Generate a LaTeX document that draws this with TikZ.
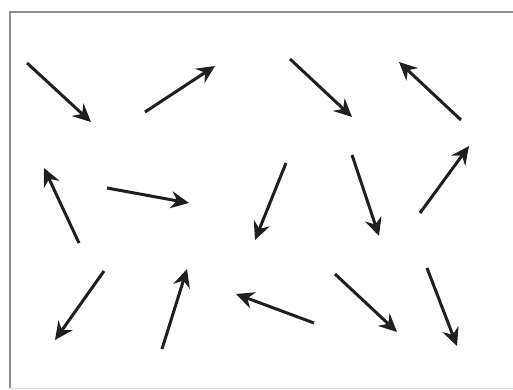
\documentclass[tikz,border=0pt]{standalone}
\usetikzlibrary{arrows.meta}
\begin{document}
\begin{tikzpicture}[x=1pt,y=-1pt,
  vec/.style={line width=3pt, color=black!88, -{Stealth[length=18pt,width=17pt,inset=6pt]}},
  frameline/.style={line width=2pt, color=black!45}]
\useasboundingbox (0,0) rectangle (513,390);
\draw[frameline] (10,388) -- (10,12) -- (513,12);
\draw[line width=0.8pt, color=black!15] (10,388) -- (513,388);
% row 1
\coordinate (t1) at (27,63);   \coordinate (h1) at (91,122);
\coordinate (t2) at (145,112); \coordinate (h2) at (215,66);
\coordinate (t3) at (290,59);  \coordinate (h3) at (352,117);
\coordinate (t4) at (461,120); \coordinate (h4) at (399,62);
% row 2
\coordinate (t5) at (79,243);  \coordinate (h5) at (44,168);
\coordinate (t6) at (107,188); \coordinate (h6) at (189,203);
\coordinate (t7) at (286,163); \coordinate (h7) at (255,240);
\coordinate (t8) at (352,155); \coordinate (h8) at (379,236);
\coordinate (t9) at (420,213); \coordinate (h9) at (469,146);
% row 3
\coordinate (t10) at (104,271); \coordinate (h10) at (55,340);
\coordinate (t11) at (162,349); \coordinate (h11) at (187,269);
\coordinate (t12) at (314,323); \coordinate (h12) at (236,294);
\coordinate (t13) at (335,274); \coordinate (h13) at (397,332);
\coordinate (t14) at (427,268); \coordinate (h14) at (457,346);
\foreach \i in {1,...,14} {\draw[vec] (t\i) -- (h\i);}
\end{tikzpicture}
\end{document}
